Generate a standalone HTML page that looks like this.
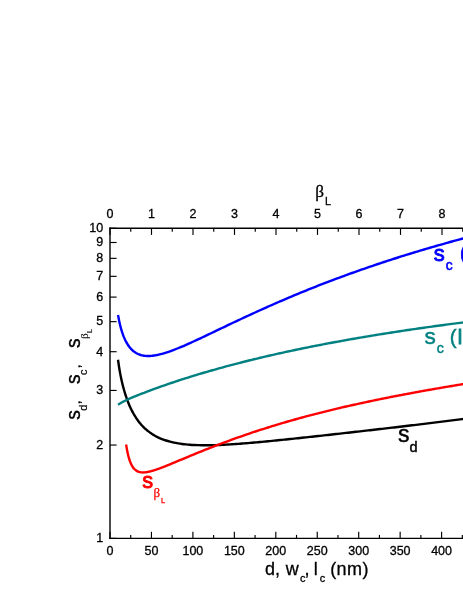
<!DOCTYPE html><html><head><meta charset="utf-8"><style>html,body{margin:0;padding:0;background:#fff}body{width:463px;height:599px;overflow:hidden}svg{display:block;will-change:transform;transform:translateZ(0)}text{font-family:"Liberation Sans",sans-serif}.sf{font-family:"Liberation Serif",serif}</style></head><body>
<svg width="463" height="599" viewBox="0 0 463 599">
<rect width="463" height="599" fill="#fff"/>
<path d="M118.03 359.75 C118.20 360.92 118.70 364.60 119.03 366.75 C119.36 368.90 119.70 370.81 120.03 372.64 C120.36 374.48 120.70 376.15 121.03 377.76 C121.36 379.36 121.70 380.85 122.03 382.28 C122.36 383.71 122.70 385.05 123.03 386.34 C123.36 387.63 123.70 388.85 124.03 390.03 C124.36 391.20 124.70 392.32 125.03 393.39 C125.36 394.47 125.70 395.50 126.03 396.49 C126.36 397.48 126.70 398.43 127.03 399.35 C127.36 400.26 127.70 401.14 128.03 401.99 C128.36 402.85 128.70 403.66 129.03 404.46 C129.36 405.25 129.70 406.01 130.03 406.75 C130.36 407.49 130.70 408.21 131.03 408.90 C131.36 409.59 131.70 410.26 132.03 410.91 C132.36 411.56 132.70 412.19 133.03 412.79 C133.36 413.40 133.70 413.99 134.03 414.57 C134.36 415.14 134.70 415.69 135.03 416.23 C135.36 416.77 135.70 417.29 136.03 417.80 C136.36 418.31 136.70 418.80 137.03 419.28 C137.36 419.76 137.70 420.22 138.03 420.67 C138.36 421.13 138.70 421.56 139.03 421.99 C139.36 422.42 139.70 422.83 140.03 423.24 C140.36 423.64 140.70 424.03 141.03 424.42 C141.36 424.80 141.70 425.17 142.03 425.53 C142.36 425.90 142.70 426.25 143.03 426.59 C143.36 426.93 143.70 427.27 144.03 427.59 C144.36 427.92 144.70 428.24 145.03 428.55 C145.36 428.85 145.70 429.15 146.03 429.45 C146.36 429.74 146.70 430.03 147.03 430.30 C147.36 430.58 147.70 430.85 148.03 431.12 C148.36 431.38 148.70 431.64 149.03 431.89 C149.36 432.14 149.70 432.39 150.03 432.63 C150.36 432.86 150.70 433.10 151.03 433.32 C151.36 433.55 151.70 433.77 152.03 433.99 C152.36 434.20 152.70 434.41 153.03 434.62 C153.36 434.83 153.70 435.03 154.03 435.22 C154.36 435.42 154.70 435.61 155.03 435.79 C155.36 435.98 155.70 436.16 156.03 436.34 C156.36 436.51 156.70 436.68 157.03 436.85 C157.36 437.02 157.20 436.97 158.03 437.35 C158.86 437.72 160.70 438.56 162.03 439.09 C163.36 439.61 164.70 440.08 166.03 440.51 C167.36 440.94 168.70 441.32 170.03 441.67 C171.36 442.02 172.70 442.33 174.03 442.61 C175.36 442.90 176.70 443.14 178.03 443.37 C179.36 443.59 180.70 443.79 182.03 443.96 C183.36 444.14 184.70 444.29 186.03 444.42 C187.36 444.56 188.70 444.67 190.03 444.77 C191.36 444.87 192.70 444.95 194.03 445.01 C195.36 445.08 196.70 445.13 198.03 445.17 C199.36 445.21 200.70 445.24 202.03 445.25 C203.36 445.27 204.70 445.28 206.03 445.27 C207.36 445.27 208.70 445.26 210.03 445.23 C211.36 445.21 212.70 445.18 214.03 445.15 C215.36 445.11 216.70 445.07 218.03 445.02 C219.36 444.96 220.70 444.91 222.03 444.85 C223.36 444.78 224.70 444.72 226.03 444.64 C227.36 444.57 228.70 444.49 230.03 444.41 C231.36 444.33 232.70 444.24 234.03 444.15 C235.36 444.06 236.70 443.97 238.03 443.87 C239.36 443.78 240.70 443.68 242.03 443.57 C243.36 443.47 244.70 443.36 246.03 443.25 C247.36 443.15 248.70 443.03 250.03 442.92 C251.36 442.81 252.70 442.69 254.03 442.57 C255.36 442.46 256.70 442.34 258.03 442.21 C259.36 442.09 260.70 441.97 262.03 441.84 C263.36 441.72 264.70 441.59 266.03 441.47 C267.36 441.34 268.70 441.21 270.03 441.08 C271.36 440.95 272.70 440.82 274.03 440.68 C275.36 440.55 276.70 440.42 278.03 440.28 C279.36 440.15 280.70 440.01 282.03 439.87 C283.36 439.74 284.70 439.60 286.03 439.46 C287.36 439.32 288.70 439.19 290.03 439.05 C291.36 438.91 292.70 438.77 294.03 438.63 C295.36 438.48 296.70 438.34 298.03 438.20 C299.36 438.06 300.70 437.92 302.03 437.77 C303.36 437.63 304.70 437.49 306.03 437.34 C307.36 437.20 308.70 437.06 310.03 436.91 C311.36 436.77 312.70 436.62 314.03 436.48 C315.36 436.33 316.70 436.19 318.03 436.04 C319.36 435.89 320.70 435.75 322.03 435.60 C323.36 435.45 324.70 435.31 326.03 435.16 C327.36 435.01 328.70 434.87 330.03 434.72 C331.36 434.57 332.70 434.42 334.03 434.27 C335.36 434.13 336.70 433.98 338.03 433.83 C339.36 433.68 340.70 433.53 342.03 433.38 C343.36 433.23 344.70 433.08 346.03 432.93 C347.36 432.78 348.70 432.63 350.03 432.48 C351.36 432.33 352.70 432.18 354.03 432.03 C355.36 431.88 356.70 431.73 358.03 431.58 C359.36 431.43 360.70 431.28 362.03 431.13 C363.36 430.97 364.70 430.82 366.03 430.67 C367.36 430.52 368.70 430.37 370.03 430.21 C371.36 430.06 372.70 429.91 374.03 429.75 C375.36 429.60 376.70 429.45 378.03 429.29 C379.36 429.14 380.70 428.99 382.03 428.83 C383.36 428.68 384.70 428.52 386.03 428.37 C387.36 428.21 388.70 428.06 390.03 427.90 C391.36 427.75 392.70 427.59 394.03 427.44 C395.36 427.28 396.70 427.12 398.03 426.97 C399.36 426.81 400.70 426.65 402.03 426.49 C403.36 426.34 404.70 426.18 406.03 426.02 C407.36 425.86 408.70 425.70 410.03 425.54 C411.36 425.39 412.70 425.23 414.03 425.07 C415.36 424.91 416.70 424.75 418.03 424.59 C419.36 424.42 420.70 424.26 422.03 424.10 C423.36 423.94 424.70 423.78 426.03 423.62 C427.36 423.45 428.70 423.29 430.03 423.13 C431.36 422.96 432.70 422.80 434.03 422.64 C435.36 422.47 436.70 422.31 438.03 422.14 C439.36 421.97 440.70 421.81 442.03 421.64 C443.36 421.48 444.70 421.31 446.03 421.14 C447.36 420.97 448.70 420.81 450.03 420.64 C451.36 420.47 452.70 420.30 454.03 420.13 C455.36 419.96 456.70 419.79 458.03 419.62 C459.36 419.45 460.70 419.27 462.03 419.10 C463.36 418.93 464.70 418.76 466.03 418.58 C467.36 418.41 469.36 418.15 470.03 418.06" fill="none" stroke="#000" stroke-width="2.4" stroke-linecap="butt" stroke-linejoin="round"/>
<path d="M118.03 404.70 C118.20 404.60 118.70 404.30 119.03 404.10 C119.36 403.89 119.70 403.68 120.03 403.48 C120.36 403.28 120.70 403.08 121.03 402.88 C121.36 402.69 121.70 402.49 122.03 402.31 C122.36 402.12 122.70 401.93 123.03 401.75 C123.36 401.57 123.70 401.40 124.03 401.23 C124.36 401.05 124.70 400.88 125.03 400.72 C125.36 400.55 125.70 400.39 126.03 400.23 C126.36 400.07 126.70 399.91 127.03 399.75 C127.36 399.60 127.70 399.44 128.03 399.29 C128.36 399.14 128.70 398.99 129.03 398.84 C129.36 398.69 129.70 398.54 130.03 398.40 C130.36 398.25 130.70 398.11 131.03 397.96 C131.36 397.82 131.70 397.68 132.03 397.54 C132.36 397.40 132.70 397.26 133.03 397.12 C133.36 396.98 133.70 396.84 134.03 396.70 C134.36 396.57 134.70 396.43 135.03 396.29 C135.36 396.16 135.70 396.02 136.03 395.89 C136.36 395.75 136.70 395.62 137.03 395.49 C137.36 395.35 137.70 395.22 138.03 395.09 C138.36 394.95 138.70 394.82 139.03 394.69 C139.36 394.56 139.70 394.43 140.03 394.30 C140.36 394.17 140.70 394.04 141.03 393.91 C141.36 393.78 141.70 393.65 142.03 393.52 C142.36 393.39 142.70 393.27 143.03 393.14 C143.36 393.01 143.70 392.88 144.03 392.76 C144.36 392.63 144.70 392.50 145.03 392.38 C145.36 392.25 145.70 392.12 146.03 392.00 C146.36 391.87 146.70 391.75 147.03 391.62 C147.36 391.50 147.70 391.37 148.03 391.25 C148.36 391.12 148.70 391.00 149.03 390.87 C149.36 390.75 149.70 390.63 150.03 390.50 C150.36 390.38 150.70 390.26 151.03 390.13 C151.36 390.01 151.70 389.89 152.03 389.77 C152.36 389.64 152.70 389.52 153.03 389.40 C153.36 389.28 153.70 389.16 154.03 389.04 C154.36 388.92 154.70 388.79 155.03 388.67 C155.36 388.55 155.70 388.43 156.03 388.31 C156.36 388.19 156.70 388.07 157.03 387.95 C157.36 387.83 157.20 387.89 158.03 387.60 C158.86 387.30 160.70 386.65 162.03 386.18 C163.36 385.71 164.70 385.25 166.03 384.79 C167.36 384.33 168.70 383.87 170.03 383.42 C171.36 382.97 172.70 382.52 174.03 382.07 C175.36 381.63 176.70 381.19 178.03 380.75 C179.36 380.31 180.70 379.88 182.03 379.45 C183.36 379.02 184.70 378.59 186.03 378.17 C187.36 377.75 188.70 377.33 190.03 376.91 C191.36 376.49 192.70 376.08 194.03 375.67 C195.36 375.26 196.70 374.86 198.03 374.45 C199.36 374.05 200.70 373.65 202.03 373.26 C203.36 372.86 204.70 372.47 206.03 372.08 C207.36 371.69 208.70 371.30 210.03 370.92 C211.36 370.53 212.70 370.15 214.03 369.78 C215.36 369.40 216.70 369.02 218.03 368.65 C219.36 368.28 220.70 367.91 222.03 367.55 C223.36 367.18 224.70 366.82 226.03 366.46 C227.36 366.10 228.70 365.74 230.03 365.38 C231.36 365.03 232.70 364.68 234.03 364.33 C235.36 363.98 236.70 363.63 238.03 363.29 C239.36 362.94 240.70 362.60 242.03 362.26 C243.36 361.92 244.70 361.59 246.03 361.25 C247.36 360.92 248.70 360.59 250.03 360.26 C251.36 359.93 252.70 359.60 254.03 359.28 C255.36 358.96 256.70 358.63 258.03 358.31 C259.36 358.00 260.70 357.68 262.03 357.36 C263.36 357.05 264.70 356.74 266.03 356.43 C267.36 356.11 268.70 355.81 270.03 355.50 C271.36 355.19 272.70 354.89 274.03 354.59 C275.36 354.29 276.70 353.99 278.03 353.69 C279.36 353.39 280.70 353.10 282.03 352.80 C283.36 352.51 284.70 352.22 286.03 351.93 C287.36 351.64 288.70 351.35 290.03 351.07 C291.36 350.78 292.70 350.50 294.03 350.21 C295.36 349.93 296.70 349.65 298.03 349.37 C299.36 349.10 300.70 348.82 302.03 348.55 C303.36 348.27 304.70 348.00 306.03 347.73 C307.36 347.46 308.70 347.19 310.03 346.92 C311.36 346.66 312.70 346.39 314.03 346.13 C315.36 345.86 316.70 345.60 318.03 345.34 C319.36 345.08 320.70 344.82 322.03 344.56 C323.36 344.31 324.70 344.05 326.03 343.80 C327.36 343.55 328.70 343.29 330.03 343.04 C331.36 342.79 332.70 342.54 334.03 342.30 C335.36 342.05 336.70 341.80 338.03 341.56 C339.36 341.32 340.70 341.07 342.03 340.83 C343.36 340.59 344.70 340.35 346.03 340.11 C347.36 339.87 348.70 339.64 350.03 339.40 C351.36 339.17 352.70 338.93 354.03 338.70 C355.36 338.47 356.70 338.24 358.03 338.01 C359.36 337.78 360.70 337.55 362.03 337.32 C363.36 337.10 364.70 336.87 366.03 336.65 C367.36 336.42 368.70 336.20 370.03 335.98 C371.36 335.76 372.70 335.54 374.03 335.32 C375.36 335.10 376.70 334.88 378.03 334.67 C379.36 334.45 380.70 334.24 382.03 334.02 C383.36 333.81 384.70 333.60 386.03 333.39 C387.36 333.18 388.70 332.97 390.03 332.76 C391.36 332.55 392.70 332.34 394.03 332.14 C395.36 331.93 396.70 331.73 398.03 331.52 C399.36 331.32 400.70 331.12 402.03 330.91 C403.36 330.71 404.70 330.51 406.03 330.31 C407.36 330.11 408.70 329.92 410.03 329.72 C411.36 329.52 412.70 329.33 414.03 329.13 C415.36 328.94 416.70 328.75 418.03 328.55 C419.36 328.36 420.70 328.17 422.03 327.98 C423.36 327.79 424.70 327.60 426.03 327.41 C427.36 327.22 428.70 327.04 430.03 326.85 C431.36 326.67 432.70 326.48 434.03 326.30 C435.36 326.11 436.70 325.93 438.03 325.75 C439.36 325.57 440.70 325.39 442.03 325.21 C443.36 325.03 444.70 324.85 446.03 324.67 C447.36 324.49 448.70 324.32 450.03 324.14 C451.36 323.96 452.70 323.79 454.03 323.62 C455.36 323.44 456.70 323.27 458.03 323.10 C459.36 322.93 460.70 322.76 462.03 322.59 C463.36 322.42 464.70 322.25 466.03 322.08 C467.36 321.91 469.36 321.66 470.03 321.58" fill="none" stroke="#008080" stroke-width="2.4" stroke-linecap="butt" stroke-linejoin="round"/>
<path d="M118.03 315.01 C118.20 315.90 118.70 318.69 119.03 320.32 C119.36 321.95 119.70 323.40 120.03 324.78 C120.36 326.16 120.70 327.42 121.03 328.61 C121.36 329.80 121.70 330.89 122.03 331.92 C122.36 332.96 122.70 333.92 123.03 334.83 C123.36 335.74 123.70 336.58 124.03 337.38 C124.36 338.18 124.70 338.93 125.03 339.64 C125.36 340.35 125.70 341.02 126.03 341.65 C126.36 342.28 126.70 342.88 127.03 343.44 C127.36 344.00 127.70 344.53 128.03 345.03 C128.36 345.54 128.70 346.01 129.03 346.46 C129.36 346.91 129.70 347.33 130.03 347.73 C130.36 348.13 130.70 348.51 131.03 348.87 C131.36 349.23 131.70 349.56 132.03 349.88 C132.36 350.20 132.70 350.50 133.03 350.79 C133.36 351.07 133.70 351.34 134.03 351.59 C134.36 351.84 134.70 352.08 135.03 352.31 C135.36 352.53 135.70 352.74 136.03 352.94 C136.36 353.13 136.70 353.32 137.03 353.49 C137.36 353.66 137.70 353.83 138.03 353.98 C138.36 354.13 138.70 354.27 139.03 354.40 C139.36 354.53 139.70 354.65 140.03 354.76 C140.36 354.87 140.70 354.97 141.03 355.07 C141.36 355.16 141.70 355.25 142.03 355.33 C142.36 355.40 142.70 355.47 143.03 355.54 C143.36 355.60 143.70 355.66 144.03 355.70 C144.36 355.75 144.70 355.80 145.03 355.83 C145.36 355.87 145.70 355.90 146.03 355.92 C146.36 355.95 146.70 355.96 147.03 355.98 C147.36 355.99 147.70 356.00 148.03 356.00 C148.36 356.00 148.70 356.00 149.03 355.99 C149.36 355.99 149.70 355.97 150.03 355.96 C150.36 355.94 150.70 355.92 151.03 355.90 C151.36 355.87 151.70 355.84 152.03 355.81 C152.36 355.77 152.70 355.74 153.03 355.70 C153.36 355.66 153.70 355.61 154.03 355.56 C154.36 355.52 154.70 355.47 155.03 355.41 C155.36 355.36 155.70 355.30 156.03 355.24 C156.36 355.18 156.70 355.11 157.03 355.05 C157.36 354.98 157.20 355.04 158.03 354.84 C158.86 354.64 160.70 354.22 162.03 353.86 C163.36 353.50 164.70 353.09 166.03 352.67 C167.36 352.25 168.70 351.79 170.03 351.32 C171.36 350.85 172.70 350.35 174.03 349.84 C175.36 349.33 176.70 348.80 178.03 348.26 C179.36 347.72 180.70 347.16 182.03 346.59 C183.36 346.03 184.70 345.45 186.03 344.86 C187.36 344.28 188.70 343.68 190.03 343.08 C191.36 342.48 192.70 341.87 194.03 341.26 C195.36 340.65 196.70 340.03 198.03 339.41 C199.36 338.79 200.70 338.16 202.03 337.53 C203.36 336.90 204.70 336.27 206.03 335.64 C207.36 335.01 208.70 334.37 210.03 333.74 C211.36 333.10 212.70 332.46 214.03 331.82 C215.36 331.19 216.70 330.55 218.03 329.91 C219.36 329.27 220.70 328.64 222.03 328.00 C223.36 327.36 224.70 326.73 226.03 326.09 C227.36 325.45 228.70 324.82 230.03 324.19 C231.36 323.55 232.70 322.92 234.03 322.29 C235.36 321.66 236.70 321.03 238.03 320.40 C239.36 319.78 240.70 319.15 242.03 318.53 C243.36 317.90 244.70 317.28 246.03 316.66 C247.36 316.04 248.70 315.43 250.03 314.81 C251.36 314.20 252.70 313.58 254.03 312.97 C255.36 312.36 256.70 311.75 258.03 311.15 C259.36 310.54 260.70 309.94 262.03 309.34 C263.36 308.74 264.70 308.14 266.03 307.55 C267.36 306.95 268.70 306.36 270.03 305.77 C271.36 305.18 272.70 304.59 274.03 304.01 C275.36 303.43 276.70 302.84 278.03 302.26 C279.36 301.69 280.70 301.11 282.03 300.54 C283.36 299.96 284.70 299.39 286.03 298.83 C287.36 298.26 288.70 297.69 290.03 297.13 C291.36 296.57 292.70 296.01 294.03 295.45 C295.36 294.90 296.70 294.34 298.03 293.79 C299.36 293.24 300.70 292.70 302.03 292.15 C303.36 291.61 304.70 291.06 306.03 290.52 C307.36 289.98 308.70 289.45 310.03 288.91 C311.36 288.38 312.70 287.85 314.03 287.32 C315.36 286.79 316.70 286.27 318.03 285.74 C319.36 285.22 320.70 284.70 322.03 284.18 C323.36 283.67 324.70 283.15 326.03 282.64 C327.36 282.13 328.70 281.62 330.03 281.11 C331.36 280.61 332.70 280.10 334.03 279.60 C335.36 279.10 336.70 278.60 338.03 278.11 C339.36 277.61 340.70 277.12 342.03 276.63 C343.36 276.14 344.70 275.65 346.03 275.17 C347.36 274.68 348.70 274.20 350.03 273.72 C351.36 273.24 352.70 272.76 354.03 272.28 C355.36 271.81 356.70 271.34 358.03 270.87 C359.36 270.40 360.70 269.93 362.03 269.46 C363.36 269.00 364.70 268.54 366.03 268.08 C367.36 267.62 368.70 267.16 370.03 266.70 C371.36 266.25 372.70 265.80 374.03 265.35 C375.36 264.89 376.70 264.45 378.03 264.00 C379.36 263.56 380.70 263.11 382.03 262.67 C383.36 262.23 384.70 261.79 386.03 261.35 C387.36 260.92 388.70 260.48 390.03 260.05 C391.36 259.62 392.70 259.19 394.03 258.76 C395.36 258.33 396.70 257.91 398.03 257.49 C399.36 257.06 400.70 256.64 402.03 256.22 C403.36 255.80 404.70 255.39 406.03 254.97 C407.36 254.56 408.70 254.15 410.03 253.74 C411.36 253.33 412.70 252.92 414.03 252.51 C415.36 252.11 416.70 251.70 418.03 251.30 C419.36 250.90 420.70 250.50 422.03 250.10 C423.36 249.70 424.70 249.31 426.03 248.91 C427.36 248.52 428.70 248.13 430.03 247.74 C431.36 247.35 432.70 246.96 434.03 246.57 C435.36 246.19 436.70 245.80 438.03 245.42 C439.36 245.04 440.70 244.66 442.03 244.28 C443.36 243.90 444.70 243.52 446.03 243.15 C447.36 242.78 448.70 242.40 450.03 242.03 C451.36 241.66 452.70 241.29 454.03 240.92 C455.36 240.56 456.70 240.19 458.03 239.83 C459.36 239.46 460.70 239.10 462.03 238.74 C463.36 238.38 464.70 238.02 466.03 237.66 C467.36 237.31 469.36 236.78 470.03 236.60" fill="none" stroke="#0000ff" stroke-width="2.4" stroke-linecap="butt" stroke-linejoin="round"/>
<path d="M126.10 444.43 C126.27 445.41 126.77 448.56 127.10 450.32 C127.43 452.07 127.77 453.58 128.10 454.97 C128.43 456.36 128.77 457.56 129.10 458.68 C129.43 459.79 129.77 460.75 130.10 461.64 C130.43 462.53 130.77 463.31 131.10 464.03 C131.43 464.74 131.77 465.37 132.10 465.94 C132.43 466.52 132.77 467.02 133.10 467.49 C133.43 467.95 133.77 468.35 134.10 468.72 C134.43 469.09 134.77 469.42 135.10 469.71 C135.43 470.01 135.77 470.26 136.10 470.49 C136.43 470.73 136.77 470.93 137.10 471.11 C137.43 471.29 137.77 471.44 138.10 471.57 C138.43 471.71 138.77 471.82 139.10 471.92 C139.43 472.02 139.77 472.10 140.10 472.17 C140.43 472.24 140.77 472.29 141.10 472.33 C141.43 472.37 141.77 472.40 142.10 472.42 C142.43 472.44 142.77 472.44 143.10 472.44 C143.43 472.44 143.77 472.43 144.10 472.41 C144.43 472.39 144.77 472.37 145.10 472.33 C145.43 472.30 145.77 472.26 146.10 472.21 C146.43 472.17 146.77 472.12 147.10 472.06 C147.43 472.00 147.77 471.94 148.10 471.87 C148.43 471.81 148.77 471.73 149.10 471.66 C149.43 471.58 149.77 471.50 150.10 471.42 C150.43 471.34 150.77 471.25 151.10 471.16 C151.43 471.07 151.77 470.98 152.10 470.89 C152.43 470.79 152.77 470.69 153.10 470.59 C153.43 470.49 153.77 470.39 154.10 470.28 C154.43 470.18 154.77 470.07 155.10 469.96 C155.43 469.85 155.77 469.74 156.10 469.63 C156.43 469.52 156.77 469.40 157.10 469.29 C157.43 469.17 157.77 469.05 158.10 468.93 C158.43 468.82 158.77 468.70 159.10 468.57 C159.43 468.45 159.77 468.33 160.10 468.21 C160.43 468.08 160.77 467.96 161.10 467.83 C161.43 467.71 161.77 467.58 162.10 467.45 C162.43 467.32 162.77 467.20 163.10 467.07 C163.43 466.94 163.77 466.81 164.10 466.68 C164.43 466.55 164.77 466.42 165.10 466.28 C165.43 466.15 165.27 466.22 166.10 465.89 C166.93 465.55 168.77 464.81 170.10 464.27 C171.43 463.72 172.77 463.17 174.10 462.62 C175.43 462.07 176.77 461.51 178.10 460.95 C179.43 460.40 180.77 459.84 182.10 459.28 C183.43 458.73 184.77 458.17 186.10 457.61 C187.43 457.06 188.77 456.50 190.10 455.95 C191.43 455.40 192.77 454.85 194.10 454.30 C195.43 453.75 196.77 453.21 198.10 452.67 C199.43 452.12 200.77 451.58 202.10 451.05 C203.43 450.51 204.77 449.98 206.10 449.45 C207.43 448.92 208.77 448.39 210.10 447.87 C211.43 447.34 212.77 446.82 214.10 446.31 C215.43 445.79 216.77 445.28 218.10 444.77 C219.43 444.26 220.77 443.75 222.10 443.25 C223.43 442.75 224.77 442.25 226.10 441.76 C227.43 441.26 228.77 440.77 230.10 440.29 C231.43 439.80 232.77 439.32 234.10 438.84 C235.43 438.36 236.77 437.88 238.10 437.41 C239.43 436.94 240.77 436.47 242.10 436.01 C243.43 435.55 244.77 435.09 246.10 434.63 C247.43 434.17 248.77 433.72 250.10 433.27 C251.43 432.82 252.77 432.38 254.10 431.94 C255.43 431.49 256.77 431.06 258.10 430.62 C259.43 430.19 260.77 429.76 262.10 429.33 C263.43 428.90 264.77 428.48 266.10 428.06 C267.43 427.64 268.77 427.22 270.10 426.81 C271.43 426.40 272.77 425.99 274.10 425.58 C275.43 425.17 276.77 424.77 278.10 424.37 C279.43 423.97 280.77 423.57 282.10 423.18 C283.43 422.79 284.77 422.40 286.10 422.01 C287.43 421.62 288.77 421.24 290.10 420.86 C291.43 420.48 292.77 420.10 294.10 419.73 C295.43 419.35 296.77 418.98 298.10 418.61 C299.43 418.24 300.77 417.88 302.10 417.52 C303.43 417.15 304.77 416.79 306.10 416.44 C307.43 416.08 308.77 415.73 310.10 415.37 C311.43 415.02 312.77 414.68 314.10 414.33 C315.43 413.98 316.77 413.64 318.10 413.30 C319.43 412.96 320.77 412.62 322.10 412.29 C323.43 411.95 324.77 411.62 326.10 411.29 C327.43 410.96 328.77 410.63 330.10 410.31 C331.43 409.98 332.77 409.66 334.10 409.34 C335.43 409.02 336.77 408.70 338.10 408.39 C339.43 408.07 340.77 407.76 342.10 407.45 C343.43 407.14 344.77 406.83 346.10 406.53 C347.43 406.22 348.77 405.92 350.10 405.62 C351.43 405.31 352.77 405.01 354.10 404.72 C355.43 404.42 356.77 404.12 358.10 403.83 C359.43 403.54 360.77 403.25 362.10 402.96 C363.43 402.67 364.77 402.38 366.10 402.10 C367.43 401.81 368.77 401.53 370.10 401.25 C371.43 400.97 372.77 400.69 374.10 400.41 C375.43 400.13 376.77 399.86 378.10 399.58 C379.43 399.31 380.77 399.04 382.10 398.77 C383.43 398.50 384.77 398.23 386.10 397.96 C387.43 397.69 388.77 397.43 390.10 397.16 C391.43 396.90 392.77 396.64 394.10 396.38 C395.43 396.12 396.77 395.86 398.10 395.60 C399.43 395.35 400.77 395.09 402.10 394.84 C403.43 394.58 404.77 394.33 406.10 394.08 C407.43 393.83 408.77 393.58 410.10 393.33 C411.43 393.08 412.77 392.83 414.10 392.59 C415.43 392.34 416.77 392.10 418.10 391.86 C419.43 391.61 420.77 391.37 422.10 391.13 C423.43 390.89 424.77 390.65 426.10 390.41 C427.43 390.18 428.77 389.94 430.10 389.70 C431.43 389.47 432.77 389.23 434.10 389.00 C435.43 388.77 436.77 388.54 438.10 388.31 C439.43 388.08 440.77 387.85 442.10 387.62 C443.43 387.39 444.77 387.16 446.10 386.93 C447.43 386.71 448.77 386.48 450.10 386.26 C451.43 386.03 452.77 385.81 454.10 385.59 C455.43 385.37 456.77 385.14 458.10 384.92 C459.43 384.70 460.77 384.48 462.10 384.26 C463.43 384.04 464.77 383.83 466.10 383.61 C467.43 383.39 469.43 383.07 470.10 382.96" fill="none" stroke="#ff0000" stroke-width="2.4" stroke-linecap="butt" stroke-linejoin="round"/>
<g stroke="#000" stroke-width="1.40" fill="none" stroke-linecap="butt">
<path d="M110.00 227.60 V539.10"/>
<path d="M109.30 228.30 H470"/>
<path d="M109.30 538.40 H470"/>
</g>
<g stroke="#000" stroke-width="1.15" fill="none">
<path d="M110.00 538.40 h6.60"/>
<path d="M110.00 445.05 h6.60"/>
<path d="M110.00 390.44 h6.60"/>
<path d="M110.00 351.70 h6.60"/>
<path d="M110.00 321.65 h6.60"/>
<path d="M110.00 297.10 h6.60"/>
<path d="M110.00 276.34 h6.60"/>
<path d="M110.00 258.35 h6.60"/>
<path d="M110.00 242.49 h6.60"/>
<path d="M110.00 228.30 h6.60"/>
<path d="M110.00 538.40 v-6.60"/>
<path d="M130.72 538.40 v-3.50"/>
<path d="M151.45 538.40 v-6.60"/>
<path d="M172.18 538.40 v-3.50"/>
<path d="M192.90 538.40 v-6.60"/>
<path d="M213.62 538.40 v-3.50"/>
<path d="M234.35 538.40 v-6.60"/>
<path d="M255.07 538.40 v-3.50"/>
<path d="M275.80 538.40 v-6.60"/>
<path d="M296.52 538.40 v-3.50"/>
<path d="M317.25 538.40 v-6.60"/>
<path d="M337.98 538.40 v-3.50"/>
<path d="M358.70 538.40 v-6.60"/>
<path d="M379.43 538.40 v-3.50"/>
<path d="M400.15 538.40 v-6.60"/>
<path d="M420.88 538.40 v-3.50"/>
<path d="M441.60 538.40 v-6.60"/>
<path d="M462.32 538.40 v-3.50"/>
<path d="M110.00 228.30 v6.60"/>
<path d="M130.75 228.30 v3.50"/>
<path d="M151.50 228.30 v6.60"/>
<path d="M172.25 228.30 v3.50"/>
<path d="M193.00 228.30 v6.60"/>
<path d="M213.75 228.30 v3.50"/>
<path d="M234.50 228.30 v6.60"/>
<path d="M255.25 228.30 v3.50"/>
<path d="M276.00 228.30 v6.60"/>
<path d="M296.75 228.30 v3.50"/>
<path d="M317.50 228.30 v6.60"/>
<path d="M338.25 228.30 v3.50"/>
<path d="M359.00 228.30 v6.60"/>
<path d="M379.75 228.30 v3.50"/>
<path d="M400.50 228.30 v6.60"/>
<path d="M421.25 228.30 v3.50"/>
<path d="M442.00 228.30 v6.60"/>
<path d="M462.75 228.30 v3.50"/>
</g>
<g font-size="12.5" fill="#000" stroke="#000" stroke-width="0.3">
<text x="103.2" y="542.20" text-anchor="end">1</text>
<text x="103.2" y="448.85" text-anchor="end">2</text>
<text x="103.2" y="394.24" text-anchor="end">3</text>
<text x="103.2" y="355.50" text-anchor="end">4</text>
<text x="103.2" y="325.45" text-anchor="end">5</text>
<text x="103.2" y="300.90" text-anchor="end">6</text>
<text x="103.2" y="280.14" text-anchor="end">7</text>
<text x="103.2" y="262.15" text-anchor="end">8</text>
<text x="103.2" y="246.29" text-anchor="end">9</text>
<text x="103.2" y="232.10" text-anchor="end">10</text>
<text x="110.00" y="555.1" text-anchor="middle">0</text>
<text x="151.45" y="555.1" text-anchor="middle">50</text>
<text x="192.90" y="555.1" text-anchor="middle">100</text>
<text x="234.35" y="555.1" text-anchor="middle">150</text>
<text x="275.80" y="555.1" text-anchor="middle">200</text>
<text x="317.25" y="555.1" text-anchor="middle">250</text>
<text x="358.70" y="555.1" text-anchor="middle">300</text>
<text x="400.15" y="555.1" text-anchor="middle">350</text>
<text x="441.60" y="555.1" text-anchor="middle">400</text>
<text x="110.00" y="218.4" text-anchor="middle">0</text>
<text x="151.50" y="218.4" text-anchor="middle">1</text>
<text x="193.00" y="218.4" text-anchor="middle">2</text>
<text x="234.50" y="218.4" text-anchor="middle">3</text>
<text x="276.00" y="218.4" text-anchor="middle">4</text>
<text x="317.50" y="218.4" text-anchor="middle">5</text>
<text x="359.00" y="218.4" text-anchor="middle">6</text>
<text x="400.50" y="218.4" text-anchor="middle">7</text>
<text x="442.00" y="218.4" text-anchor="middle">8</text>
</g>
<g font-size="18" fill="#000" stroke="#000" stroke-width="0.3">
<text x="265.0" y="575.4">d,</text>
<text x="285.8" y="575.4">w</text>
<text x="299.9" y="582" font-size="11">c</text>
<text x="304.6" y="575.4">,</text>
<text x="313.8" y="575.4">l</text>
<text x="319.8" y="582" font-size="11">c</text>
<text x="330.2" y="575.4" letter-spacing="0.4">(nm)</text>
</g>
<g fill="#000" stroke="#000" stroke-width="0.3"><text x="315.3" y="197.4" font-size="17.3" class="sf">β</text><text x="324.9" y="204.6" font-size="10.8">L</text></g>
<g transform="translate(80,420) rotate(-90)" fill="#000" stroke="#000" stroke-width="0.35">
<text x="0.20" y="0" font-size="19.3">s</text>
<text x="9.20" y="7.2" font-size="11.0" stroke-width="0.2">d</text>
<text x="15.60" y="0" font-size="15.4" stroke-width="0.1">,</text>
<text x="36.10" y="0" font-size="19.3">s</text>
<text x="45.10" y="7.2" font-size="11.0" stroke-width="0.2">c</text>
<text x="51.50" y="0" font-size="15.4" stroke-width="0.1">,</text>
<text x="72.00" y="0" font-size="19.3">s</text>
<text x="81.20" y="7.8" font-size="10.5" class="sf" stroke-width="0.1">β</text>
<text x="86.70" y="12" font-size="8" stroke-width="0.1">L</text>
</g>
<g fill="#0000ff" stroke="#0000ff" stroke-width="0.85" stroke-linejoin="round"><text x="433.8" y="260.7" font-size="22">s</text><text x="445.7" y="270.4" font-size="13.8" stroke-width="0.6">c</text><text x="460.0" y="260.3" font-size="21.8">(</text></g>
<g fill="#008080" stroke="#008080" stroke-width="0.45"><text x="424.6" y="343.6" font-size="22.6">s</text><text x="436.7" y="353" font-size="14.3">c</text><text x="449.8" y="344.3" font-size="20.5">(</text><text x="457.8" y="343.5" font-size="20" stroke-width="0.9">l</text></g>
<g fill="#000" stroke="#000" stroke-width="0.45"><text x="398" y="441.8" font-size="23">s<tspan font-size="14.5" dy="9.8">d</tspan></text></g>
<g fill="#ff0000" stroke="#ff0000" stroke-width="0.85" stroke-linejoin="round"><text x="142.2" y="488.4" font-size="21.8">s</text><text x="153.6" y="497.4" font-size="13" class="sf" stroke-width="0.25">β</text><text x="161" y="502.8" font-size="7.5" stroke-width="0.3">L</text></g>
</svg></body></html>
